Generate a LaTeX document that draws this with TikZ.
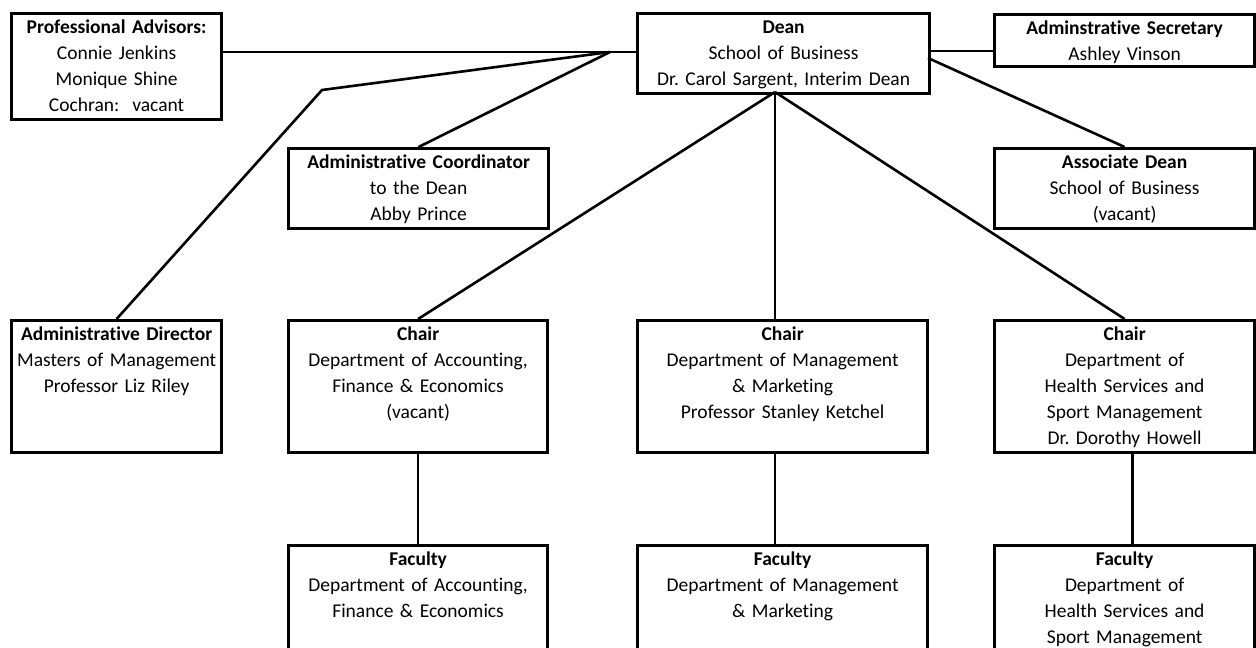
\documentclass[tikz,border=0pt]{standalone}
\usepackage{fontspec}
\setmainfont{Carlito}[Ligatures=NoCommon]
\frenchspacing
\usetikzlibrary{positioning}
\tikzset{
  orgbox/.style={draw, line width=1.6pt, inner sep=0pt, anchor=north west, align=center,
    text height=10pt, font=\fontsize{9.75}{13}\selectfont},
  link/.style={line width=1.3pt}
}

\begin{document}
\begin{tikzpicture}[x=0.5pt, y=-0.5pt, node distance=45pt]
	\useasboundingbox (0,0) rectangle (1256,647);
	\clip (0,0) rectangle (1256,647);

	% top row
	\node[orgbox, text width=105pt, text depth=43pt] (adv) at (10,12) {\textbf{Professional Advisors:}\\Connie Jenkins\\Monique Shine\\Cochran:\ \ vacant};
	\node[orgbox, text width=146pt, text depth=30pt] (dean) at (636,12) {\textbf{Dean}\\School of Business\\Dr. Carol Sargent, Interim Dean};
	\node[orgbox, text width=130pt, text depth=16pt] (sec) at (993,13) {\textbf{Adminstrative Secretary}\\Ashley Vinson};

	% staff under the dean
	\node[orgbox, text width=130pt, text depth=30pt] (coord) at (287,147) {\textbf{Administrative Coordinator}\\to the Dean\\Abby Prince};
	\node[orgbox, text width=130pt, text depth=30pt] (assoc) at (993,147) {\textbf{Associate Dean}\\School of Business\\(vacant)};

	% chairs
	\node[orgbox, text width=105pt, text depth=56pt] (dir) at (10,319) {\textbf{Administrative Director}\\Masters of Management\\Professor Liz Riley};
	\node[orgbox, text width=129.5pt, text depth=56pt] (chairA) at (287,319) {\textbf{Chair}\\Department of Accounting,\\Finance \& Economics\\(vacant)};
	\node[orgbox, text width=145pt, text depth=56pt] (chairB) at (636,319) {\textbf{Chair}\\Department of Management\\\& Marketing\\Professor Stanley Ketchel};
	\node[orgbox, text width=130pt, text depth=56pt] (chairC) at (993,319) {\textbf{Chair}\\Department of\hspace*{7.5pt}\\Health Services and\\Sport Management\\Dr. Dorothy Howell};

	% faculty
	\node[orgbox, text width=129.5pt, text depth=56pt, below=of chairA] (facA) {\textbf{Faculty}\\Department of Accounting,\\Finance \& Economics};
	\node[orgbox, text width=145pt, text depth=56pt, below=of chairB] (facB) {\textbf{Faculty}\\Department of Management\\\& Marketing};
	\node[orgbox, text width=130pt, text depth=56pt, below=of chairC] (facC) {\textbf{Faculty}\\Department of\hspace*{7.5pt}\\Health Services and\\Sport Management};

	% joints of the lines
	\coordinate (hub) at (610,52);
	\coordinate (kink) at (322,90);
	\coordinate (deanfoot) at (775,92);
	\coordinate (deanright) at (928,51);
	\coordinate (deanside) at (928,58);

	\draw[link] (adv.east |- hub) -- (dean.west |- hub);
	\draw[link] (hub) -- (coord.north);
	\draw[link] (hub) -- (kink) -- (dir.north);
	\draw[link] (deanright) -- (sec.west |- deanright);
	\draw[link] (deanside) -- (assoc.north);

	\draw[link] (deanfoot) -- (chairA.north);
	\draw[link] (deanfoot) -- (deanfoot |- chairB.north);
	\draw[link] (deanfoot) -- (chairC.north);

	\draw[link] (chairA.south) -- (facA.north);
	\draw[link] (deanfoot |- chairB.south) -- (deanfoot |- facB.north);
	\draw[link] ([xshift=4pt]chairC.south) -- ([xshift=4pt]facC.north);
\end{tikzpicture}
\end{document}
